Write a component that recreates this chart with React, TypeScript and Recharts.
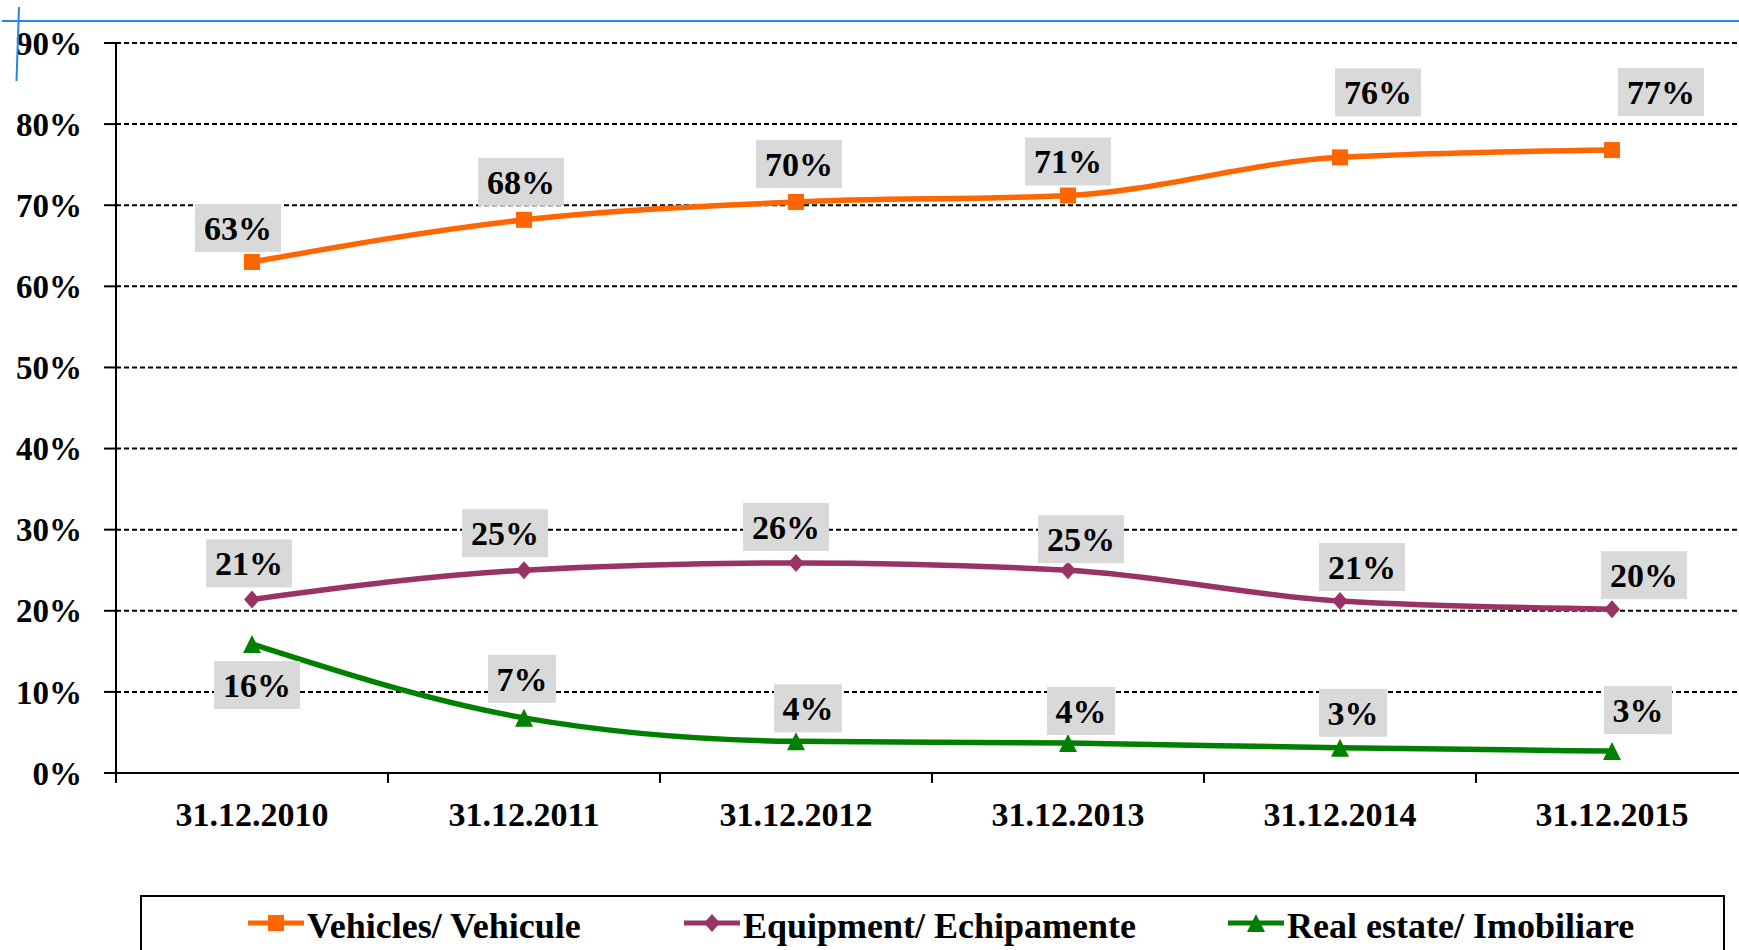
import React from 'react';
import { LineChart, Line, XAxis, YAxis, CartesianGrid, LabelList } from 'recharts';

const categories = ['31.12.2010', '31.12.2011', '31.12.2012', '31.12.2013', '31.12.2014', '31.12.2015'];
const vehicles = [63.0, 68.2, 70.4, 71.2, 75.9, 76.8];
const equipment = [21.4, 25.0, 25.9, 25.0, 21.2, 20.2];
const realEstate = [15.9, 6.8, 3.9, 3.7, 3.1, 2.7];
const yTicks = [0, 10, 20, 30, 40, 50, 60, 70, 80, 90];
const seriesNames = ['Vehicles/ Vehicule', 'Equipment/ Echipamente', 'Real estate/ Imobiliare'];

const data = categories.map((date, i) => ({
    date,
    vehicles: vehicles[i],
    equipment: equipment[i],
    realEstate: realEstate[i],
}));

// where each data label box sits relative to its point (dx, dy in px), as in the original
const vehiclesLabelPos = [[-14, -34], [-3, -38], [3, -38], [0, -34], [38, -65], [49, -58]];
const equipmentLabelPos = [[-3, -36], [-19, -37], [-10, -36], [13, -31], [22, -34], [32, -34]];
const realEstateLabelPos = [[5, 41], [-2, -39], [12, -33], [13, -32], [13, -35], [26, -41]];

const FONT = '"Liberation Serif", "Times New Roman", serif';
const ORANGE = '#FF6600';
const PURPLE = '#993366';
const GREEN = '#008000';
const HALF_BAND = 136;

const makeLabel = (pos: number[][]) => (props: any) => {
    const { x, y, value, index } = props;
    const [dx, dy] = pos[index] || [0, -36];
    const text = `${Math.round(value)}%`;
    const w = text.length === 3 ? 86 : 68;
    const cx = x + dx;
    const cy = y + dy;
    return (
        <g key={`lbl-${index}`}>
            <rect x={cx - w / 2} y={cy - 24} width={w} height={48} fill="#D9D9D9" />
            <text x={cx} y={cy + 12} textAnchor="middle" fontSize={34} fontWeight="bold" fontFamily={FONT} fill="#000">
                {text}
            </text>
        </g>
    );
};

const squareDot = (props: any) => (
    <rect key={`sq-${props.index}`} x={props.cx - 8} y={props.cy - 8} width={16} height={16} fill={ORANGE} />
);

const diamondDot = (props: any) => {
    const { cx, cy } = props;
    return <polygon key={`dm-${props.index}`} points={`${cx},${cy - 9} ${cx + 8},${cy} ${cx},${cy + 9} ${cx - 8},${cy}`} fill={PURPLE} />;
};

const triangleDot = (props: any) => {
    const { cx, cy } = props;
    return <polygon key={`tr-${props.index}`} points={`${cx},${cy - 9} ${cx + 9},${cy + 9} ${cx - 9},${cy + 9}`} fill={GREEN} />;
};

const XTick = (props: any) => {
    const { x, y, payload, index } = props;
    return (
        <g>
            <line x1={x - HALF_BAND} y1={y} x2={x - HALF_BAND} y2={y + 10} stroke="#000" strokeWidth={2} />
            {index === categories.length - 1 && (
                <line x1={x + HALF_BAND} y1={y} x2={x + HALF_BAND} y2={y + 10} stroke="#000" strokeWidth={2} />
            )}
            <text x={x} y={y + 53} textAnchor="middle" fontSize={34} fontWeight="bold" fontFamily={FONT} fill="#000">
                {payload.value}
            </text>
        </g>
    );
};

const legendItems = [
    { name: seriesNames[0], color: ORANGE, shape: 'square', x: 248 },
    { name: seriesNames[1], color: PURPLE, shape: 'diamond', x: 684 },
    { name: seriesNames[2], color: GREEN, shape: 'triangle', x: 1228 },
];

const LegendMarker = ({ x, y, color, shape }: { x: number; y: number; color: string; shape: string }) => {
    const cx = x + 28;
    let mark;
    if (shape === 'square') mark = <rect x={cx - 8} y={y - 8} width={16} height={16} fill={color} />;
    else if (shape === 'diamond') mark = <polygon points={`${cx},${y - 9} ${cx + 8},${y} ${cx},${y + 9} ${cx - 8},${y}`} fill={color} />;
    else mark = <polygon points={`${cx},${y - 9} ${cx + 9},${y + 9} ${cx - 9},${y + 9}`} fill={color} />;
    return (
        <g>
            <line x1={x} y1={y} x2={x + 56} y2={y} stroke={color} strokeWidth={5} />
            {mark}
        </g>
    );
};

export default function App() {
    return (
        <div style={{ position: 'absolute', left: 0, top: 0, width: 1739, height: 950, overflow: 'hidden', background: '#fff' }}>
            <LineChart
                width={1760}
                height={950}
                data={data}
                margin={{ top: 43, right: 12, bottom: 117, left: 0 }}
            >
                <CartesianGrid vertical={false} stroke="#000" strokeDasharray="5 3" strokeWidth={2} />
                <XAxis
                    dataKey="date"
                    padding={{ left: HALF_BAND, right: HALF_BAND }}
                    height={60}
                    interval={0}
                    tickSize={0}
                    tickMargin={0}
                    tickLine={false}
                    axisLine={{ stroke: '#000', strokeWidth: 2 }}
                    tick={<XTick />}
                />
                <YAxis
                    width={116}
                    domain={[0, 90]}
                    ticks={yTicks}
                    interval={0}
                    tickSize={12}
                    tickMargin={22}
                    tickFormatter={(v: number) => `${v}%`}
                    axisLine={{ stroke: '#000', strokeWidth: 2 }}
                    tickLine={{ stroke: '#000', strokeWidth: 2 }}
                    tick={{ fill: '#000', fontSize: 33, fontWeight: 'bold', fontFamily: FONT }}
                />
                <Line
                    dataKey="vehicles"
                    name={seriesNames[0]}
                    type="monotone"
                    stroke={ORANGE}
                    strokeWidth={5.5}
                    dot={squareDot}
                    activeDot={false}
                    isAnimationActive={false}
                >
                    <LabelList dataKey="vehicles" content={makeLabel(vehiclesLabelPos)} />
                </Line>
                <Line
                    dataKey="equipment"
                    name={seriesNames[1]}
                    type="monotone"
                    stroke={PURPLE}
                    strokeWidth={5.5}
                    dot={diamondDot}
                    activeDot={false}
                    isAnimationActive={false}
                >
                    <LabelList dataKey="equipment" content={makeLabel(equipmentLabelPos)} />
                </Line>
                <Line
                    dataKey="realEstate"
                    name={seriesNames[2]}
                    type="monotone"
                    stroke={GREEN}
                    strokeWidth={5.5}
                    dot={triangleDot}
                    activeDot={false}
                    isAnimationActive={false}
                >
                    <LabelList dataKey="realEstate" content={makeLabel(realEstateLabelPos)} />
                </Line>
            </LineChart>

            {/* legend box + the blue crop marks at the top */}
            <svg width={1739} height={950} style={{ position: 'absolute', left: 0, top: 0, pointerEvents: 'none' }}>
                <line x1={2} y1={21} x2={1739} y2={21} stroke="#1E88F0" strokeWidth={2} />
                <line x1={19} y1={7} x2={16.5} y2={81} stroke="#1E88F0" strokeWidth={2} />
                <rect x={141} y={896} width={1583} height={100} fill="#fff" stroke="#000" strokeWidth={2} />
                {legendItems.map((it) => (
                    <g key={it.name}>
                        <LegendMarker x={it.x} y={923} color={it.color} shape={it.shape} />
                        <text x={it.x + 59} y={938} fontSize={36} fontWeight="bold" fontFamily={FONT} fill="#000">
                            {it.name}
                        </text>
                    </g>
                ))}
            </svg>
        </div>
    );
}
